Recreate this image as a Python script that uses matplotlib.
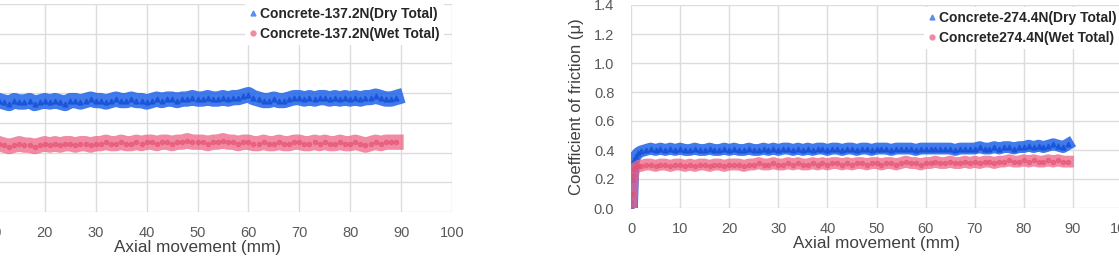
import numpy as np
import matplotlib.pyplot as plt

plt.rcParams['font.family'] = ['Liberation Sans', 'DejaVu Sans']

# left panel: 137.2 N, x = axial movement (mm)
x_137 = np.arange(0, 90)
dry_137 = [0.70, 0.73, 0.74, 0.75, 0.74, 0.75, 0.74, 0.75, 0.74, 0.75,
           0.74, 0.75, 0.74, 0.73, 0.75, 0.74, 0.74, 0.75, 0.73, 0.74,
           0.75, 0.74, 0.75, 0.74, 0.73, 0.75, 0.75, 0.74, 0.75, 0.76,
           0.75, 0.75, 0.74, 0.75, 0.76, 0.75, 0.75, 0.76, 0.75, 0.75,
           0.74, 0.75, 0.76, 0.75, 0.76, 0.76, 0.75, 0.76, 0.76, 0.77,
           0.76, 0.76, 0.77, 0.76, 0.76, 0.77, 0.76, 0.77, 0.77, 0.78,
           0.79, 0.77, 0.76, 0.75, 0.75, 0.76, 0.75, 0.75, 0.76, 0.77,
           0.77, 0.76, 0.77, 0.76, 0.77, 0.77, 0.76, 0.77, 0.76, 0.77,
           0.76, 0.77, 0.76, 0.77, 0.77, 0.78, 0.77, 0.76, 0.76, 0.77]
wet_137 = [0.43, 0.45, 0.45, 0.46, 0.45, 0.46, 0.45, 0.45, 0.46, 0.45,
           0.45, 0.46, 0.45, 0.44, 0.45, 0.46, 0.45, 0.45, 0.44, 0.45,
           0.46, 0.45, 0.46, 0.45, 0.46, 0.46, 0.45, 0.46, 0.46, 0.45,
           0.46, 0.46, 0.47, 0.46, 0.46, 0.47, 0.46, 0.46, 0.47, 0.46,
           0.47, 0.47, 0.46, 0.47, 0.47, 0.46, 0.47, 0.47, 0.48, 0.47,
           0.47, 0.47, 0.46, 0.47, 0.47, 0.48, 0.47, 0.47, 0.46, 0.47,
           0.47, 0.46, 0.46, 0.47, 0.46, 0.46, 0.47, 0.46, 0.46, 0.47,
           0.47, 0.46, 0.46, 0.47, 0.46, 0.47, 0.46, 0.46, 0.47, 0.46,
           0.46, 0.47, 0.46, 0.45, 0.46, 0.47, 0.46, 0.47, 0.47, 0.47]

# right panel: 274.4 N
x_274 = [0, 0.2, 0.4, 0.6, 1.0, 1.5] + list(range(2, 90))
dry_274 = [0.05, 0.00, 0.20, 0.33, 0.36, 0.38,
           0.39, 0.40, 0.41, 0.40, 0.41, 0.40, 0.41, 0.40, 0.41, 0.40,
           0.40, 0.41, 0.40, 0.40, 0.41, 0.40, 0.40, 0.41, 0.40, 0.41,
           0.40, 0.40, 0.41, 0.40, 0.40, 0.41, 0.40, 0.41, 0.40, 0.41,
           0.41, 0.40, 0.41, 0.40, 0.41, 0.40, 0.41, 0.41, 0.40, 0.41,
           0.41, 0.40, 0.41, 0.41, 0.40, 0.41, 0.41, 0.40, 0.41, 0.41,
           0.41, 0.40, 0.41, 0.41, 0.41, 0.41, 0.40, 0.41, 0.41, 0.41,
           0.41, 0.41, 0.41, 0.41, 0.40, 0.41, 0.41, 0.41, 0.41, 0.42,
           0.41, 0.41, 0.42, 0.41, 0.42, 0.42, 0.41, 0.42, 0.42, 0.43,
           0.42, 0.43, 0.42, 0.43, 0.44, 0.43, 0.42, 0.44]
wet_274 = [0.00, 0.10, 0.22, 0.27, 0.28, 0.29,
           0.29, 0.30, 0.30, 0.29, 0.30, 0.30, 0.29, 0.30, 0.30, 0.29,
           0.30, 0.29, 0.30, 0.30, 0.29, 0.30, 0.30, 0.29, 0.30, 0.30,
           0.30, 0.29, 0.30, 0.30, 0.31, 0.30, 0.30, 0.31, 0.30, 0.30,
           0.31, 0.30, 0.31, 0.30, 0.30, 0.31, 0.30, 0.31, 0.30, 0.31,
           0.31, 0.30, 0.31, 0.30, 0.31, 0.31, 0.30, 0.31, 0.31, 0.30,
           0.31, 0.31, 0.30, 0.31, 0.32, 0.31, 0.31, 0.30, 0.31, 0.31,
           0.32, 0.31, 0.31, 0.32, 0.31, 0.31, 0.32, 0.31, 0.32, 0.31,
           0.32, 0.32, 0.31, 0.32, 0.32, 0.33, 0.32, 0.32, 0.33, 0.32,
           0.33, 0.32, 0.32, 0.33, 0.32, 0.33, 0.32, 0.32]

blue = '#1f63e8'
pink = '#ee6384'
grid_c = '#dcdcdc'
tick_c = '#595959'

fig = plt.figure(figsize=(11.19, 2.66), dpi=100)
ax1 = fig.add_axes([-57 / 1119, 54 / 266, 509 / 1119, 208 / 266])
ax2 = fig.add_axes([631 / 1119, 58 / 266, 491 / 1119, 203 / 266])


def style(ax):
    ax.set_xlim(0, 100)
    ax.set_ylim(0, 1.4)
    ax.set_xticks(np.arange(0, 101, 10))
    ax.set_yticks(np.arange(0, 1.41, 0.2))
    ax.yaxis.set_major_formatter(plt.FormatStrFormatter('%.1f'))
    ax.grid(True, color=grid_c, lw=1)
    ax.set_axisbelow(True)
    for s in ax.spines.values():
        s.set_visible(False)
    ax.tick_params(length=0, labelsize=10.5, colors=tick_c)
    ax.tick_params(axis='x', pad=10)
    ax.tick_params(axis='y', pad=12)
    ax.set_xlabel('Axial movement (mm)', fontsize=12.3, color='#404040', labelpad=0)
    ax.set_ylabel('Coefficient of friction (\u03bc)', fontsize=12, color='#404040', labelpad=7)


for ax, x, dry, wet, labels, loc, lw in [
        (ax1, x_137, dry_137, wet_137,
         ['Concrete-137.2N(Dry Total)', 'Concrete-137.2N(Wet Total)'], (245 / 1119, 0.99), 11),
        (ax2, x_274, dry_274, wet_274,
         ['Concrete-274.4N(Dry Total)', 'Concrete274.4N(Wet Total)'], (924 / 1119, 0.975), 8.5)]:
    style(ax)
    ax.plot(x, dry, color=blue, lw=lw, alpha=0.85)
    ax.plot(x, dry, ls='none', marker='^', ms=3.5, color='#1550d8', alpha=0.8)
    ax.plot(x, wet, color=pink, lw=lw, alpha=0.75)
    ax.plot(x, wet, ls='none', marker='o', ms=3, color='#e4506f', alpha=0.6)
    h1, = ax.plot([], [], ls='none', marker='^', ms=3.5, color='#5b8def')
    h2, = ax.plot([], [], ls='none', marker='o', ms=3.5, color='#f08aa2')
    leg = ax.legend([h1, h2], labels, loc='upper left', bbox_to_anchor=loc,
                    bbox_transform=fig.transFigure, frameon=True, framealpha=1,
                    edgecolor='none', facecolor='white', fancybox=False,
                    prop={'weight': 'bold', 'size': 10}, handlelength=0.5,
                    handletextpad=0.3, labelspacing=0.45, borderpad=0.3,
                    borderaxespad=0)
    for t in leg.get_texts():
        t.set_color('#262626')

fig.savefig('out.png', dpi=100)
